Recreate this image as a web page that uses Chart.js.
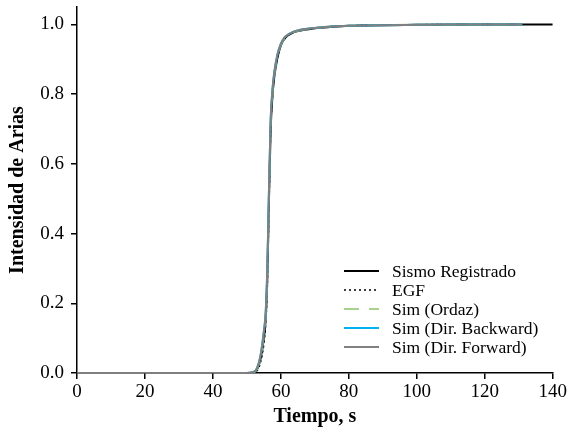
<!DOCTYPE html>
<html>
<head>
<meta charset="utf-8">
<script src="https://cdn.jsdelivr.net/npm/chart.js@4"></script>
<style>
  html, body { margin: 0; padding: 0; background: #fff; }
  #wrap { width: 569px; height: 433px; }
</style>
</head>
<body>
<div id="wrap"><canvas id="arias"></canvas></div>
<script>
// tiempo (s) comun a todas las curvas
const tiempo = [0, 50, 52, 53, 54, 55, 55.5, 56, 56.5, 57, 57.5, 58, 59, 60, 61, 62, 63, 65, 70, 75, 80, 90, 100, 110, 120, 131, 140];

// intensidad de Arias normalizada
const sismo_registrado = [0, 0, 0.002, 0.01, 0.04, 0.10, 0.15, 0.27, 0.50, 0.70, 0.79, 0.845, 0.905, 0.940, 0.958, 0.968, 0.974, 0.981, 0.989, 0.993, 0.996, 0.998, 0.999, 1, 1, 1, 1];
const egf = [0, 0, 0.001, 0.007, 0.03, 0.085, 0.14, 0.25, 0.48, 0.70, 0.79, 0.848, 0.907, 0.941, 0.958, 0.968, 0.975, 0.982, 0.990, 0.994, 0.996, 0.998, 0.999, 1, 1, 1, null];
const sim_ordaz = [0, 0, 0.002, 0.012, 0.045, 0.11, 0.16, 0.29, 0.52, 0.72, 0.80, 0.852, 0.91, 0.942, 0.96, 0.969, 0.975, 0.982, 0.990, 0.994, 0.996, 0.998, 0.999, 1, 1, 1, null];
const sim_backward = [0, 0, 0.003, 0.014, 0.05, 0.12, 0.17, 0.30, 0.53, 0.73, 0.81, 0.857, 0.913, 0.944, 0.961, 0.970, 0.976, 0.983, 0.990, 0.994, 0.996, 0.998, 0.999, 1, 1, 1, null];
const sim_forward = [0, 0, 0.003, 0.015, 0.05, 0.12, 0.17, 0.30, 0.53, 0.73, 0.81, 0.86, 0.915, 0.945, 0.962, 0.970, 0.976, 0.983, 0.990, 0.994, 0.996, 0.998, 0.999, 1, 1, 1, null];

const nombres = ['Sismo Registrado', 'EGF', 'Sim (Ordaz)', 'Sim (Dir. Backward)', 'Sim (Dir. Forward)'];
const series = [sismo_registrado, egf, sim_ordaz, sim_backward, sim_forward];
const colores = ['#000000', '#000000', '#a9d18e', '#00b0f0', '#808080'];
const guiones = [[], [2, 3], [15, 10], [], []];
const grosor = [2, 1.6, 2, 2, 2];

const fuente = '"Liberation Serif", "DejaVu Serif", serif';

// arma los puntos {x,y} de cada serie a partir del vector de tiempo
function puntos(valores)
{
    let out = [];
    valores.forEach((v, i) => {
        if (v !== null) out.push({x: tiempo[i], y: v});
    });
    return out;
}

// leyenda propia dentro del area del grafico, abajo a la derecha
const leyenda = {
    id: 'leyenda',
    afterDraw(chart) {
        const ctx = chart.ctx;
        const area = chart.chartArea;
        const x0 = area.left + 267;
        const y0 = area.bottom - 102;
        ctx.save();
        ctx.font = '17.5px ' + fuente;
        ctx.textBaseline = 'middle';
        ctx.fillStyle = '#000';
        chart.data.datasets.forEach((ds, i) => {
            const y = y0 + i * 19;
            ctx.beginPath();
            ctx.setLineDash(ds.borderDash);
            ctx.strokeStyle = ds.borderColor;
            ctx.lineWidth = ds.borderWidth;
            ctx.moveTo(x0, y);
            ctx.lineTo(x0 + 35, y);
            ctx.stroke();
            ctx.setLineDash([]);
            ctx.fillText(ds.label, x0 + 48, y + 1);
        });
        ctx.restore();
    }
};

const datasets = series.map((s, i) => ({
    label: nombres[i],
    data: puntos(s),
    borderColor: colores[i],
    backgroundColor: colores[i],
    borderWidth: grosor[i],
    borderDash: guiones[i],
    pointRadius: 0,
    fill: false,
    cubicInterpolationMode: 'monotone',
    // la ultima serie queda arriba
    order: series.length - 1 - i
}));

new Chart(document.getElementById('arias'), {
    type: 'line',
    data: { datasets: datasets },
    options: {
        responsive: true,
        maintainAspectRatio: false,
        animation: false,
        layout: { autoPadding: false, padding: { top: 7, right: 16, left: 0, bottom: 0 } },
        plugins: {
            legend: { display: false },
            tooltip: { enabled: false }
        },
        scales: {
            x: {
                type: 'linear',
                min: 0,
                max: 140,
                ticks: { stepSize: 20, color: '#000', font: { family: fuente, size: 19 }, padding: 2, maxRotation: 0 },
                grid: { drawOnChartArea: false, drawTicks: true, tickLength: 6, color: '#000', lineWidth: 1.5 },
                border: { color: '#000', width: 1.5 },
                title: { display: true, text: 'Tiempo, s', color: '#000', font: { family: fuente, size: 20, weight: 'bold' }, padding: { top: 1 } },
                afterFit(scale) { scale.height = 60; }
            },
            y: {
                min: 0,
                max: 1.05,
                ticks: {
                    stepSize: 0.2,
                    includeBounds: false,
                    color: '#000',
                    font: { family: fuente, size: 19 },
                    padding: 7,
                    callback: v => v.toFixed(1)
                },
                grid: { drawOnChartArea: false, drawTicks: true, tickLength: 6, color: '#000', lineWidth: 1.5 },
                border: { color: '#000', width: 1.5 },
                title: { display: true, text: 'Intensidad de Arias', color: '#000', font: { family: fuente, size: 20, weight: 'bold' }, padding: { top: 6, bottom: 0 } },
                afterFit(scale) {
                    scale.width = 77;
                    scale.paddingTop = 0;
                    scale.paddingBottom = 0;
                }
            }
        }
    },
    plugins: [leyenda]
});
</script>
</body>
</html>
